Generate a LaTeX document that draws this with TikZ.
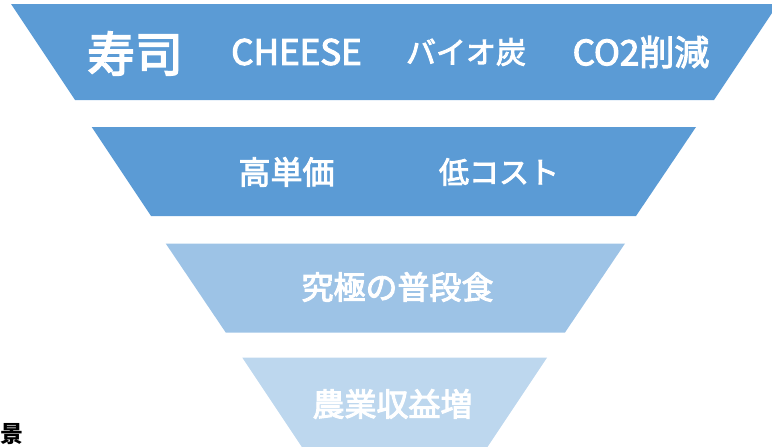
\documentclass[tikz,border=0pt]{standalone}
\usepackage{fontspec}
\newfontfamily\jp[FakeBold=3]{Noto Sans CJK JP}
\newfontfamily\jpb{Noto Sans CJK JP}
\definecolor{bA}{HTML}{5B9BD5}
\definecolor{bC}{HTML}{9DC3E6}
\definecolor{bD}{HTML}{BDD7EE}
\begin{document}
\begin{tikzpicture}[x=1pt,y=-1pt,
  lbl/.style={text=white,inner sep=0pt,font=\jp\fontsize{#1}{#1}\selectfont},
  lbl/.default=32]
\useasboundingbox (0,0) rectangle (772,447);
\clip (0,0) rectangle (772,447);
\fill[bA] (11,4) -- (778,4) -- (714,100) -- (75,100) -- cycle;
\fill[bA] (91.7,127) -- (696,127) -- (636,216) -- (151,216) -- cycle;
\fill[bC] (165.7,243.5) -- (625,243.5) -- (565,332.5) -- (225.7,332.5) -- cycle;
\fill[bD] (242.3,357.7) -- (547,357.7) -- (475.4,465) -- (313.9,465) -- cycle;
\node[lbl=48] (sushi) at (135,53.5) {寿司};
\node[lbl=35] (cheese) at (296.5,52) {CHEESE};
\node[lbl=30] (bio) at (466,52) {バイオ炭};
\node[lbl=35] (co2) at (641,52) {CO2削減};
\node[lbl=32] (price) at (286.5,172) {高単価};
\node[lbl=30] (cost) at (499,172) {低コスト};
\node[lbl=32] (food) at (397.5,287) {究極の普段食};
\node[lbl=32] (farm) at (392.5,404) {農業収益増};
\node[inner sep=0pt,anchor=base,font=\jpb\bfseries\fontsize{23}{23}\selectfont] (kei) at (12.5,442) {景};
\end{tikzpicture}
\end{document}
